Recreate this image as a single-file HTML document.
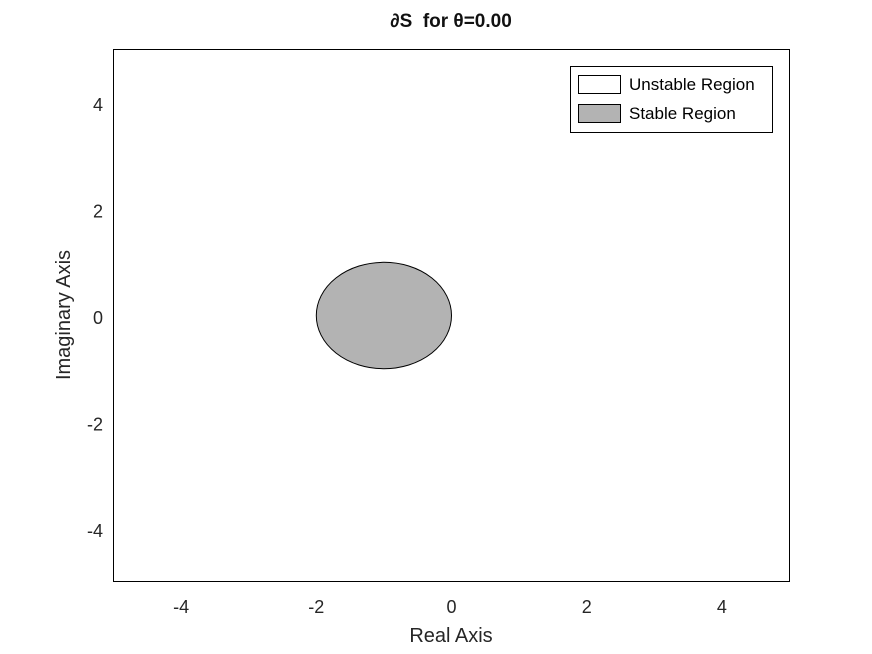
<!DOCTYPE html>
<html><head><meta charset="utf-8"><style>
body{margin:0;background:#fff;}
svg{display:block;font-family:"Liberation Sans",sans-serif;}
</style></head><body>
<svg width="872" height="654">
<rect x="0" y="0" width="872" height="654" fill="#fff"/>
<g id="plot"></g>
<rect x="113.5" y="49.5" width="676" height="532" fill="none" stroke="#000" stroke-width="1"/>
<text x="451" y="27" text-anchor="middle" font-size="19" font-weight="bold" fill="#111">∂S&#160; for θ=0.00</text>
<text x="451" y="642" text-anchor="middle" font-size="20" fill="#262626">Real Axis</text>
<text transform="translate(70,315) rotate(-90)" text-anchor="middle" font-size="20" fill="#262626">Imaginary Axis</text>
<g id="xt"></g><g id="yt"></g>
<g>
<rect x="570.5" y="66.5" width="202" height="66" fill="#fff" stroke="#000"/>
<rect x="578.5" y="75.5" width="42" height="18" fill="#fff" stroke="#000"/>
<text x="629" y="90" font-size="17" fill="#000">Unstable Region</text>
<rect x="578.5" y="104.5" width="42" height="18" fill="#b3b3b3" stroke="#000"/>
<text x="629" y="119" font-size="17" fill="#000">Stable Region</text>
</g>
</svg>
<script>
const xTicks=[-4,-2,0,2,4];
const yTicks=[-4,-2,0,2,4];
const centerRe=[-1];
const radius=[1];
const X0=113.5,X1=789.5,Y0=581.5,Y1=49.5;
const sx=v=>X0+(v+5)/10*(X1-X0);
const sy=v=>Y0-(v+5)/10*(Y0-Y1);
const ns="http://www.w3.org/2000/svg";
const plot=document.getElementById('plot');
const e=document.createElementNS(ns,'ellipse');


e.setAttribute('cx',sx(centerRe[0]));e.setAttribute('cy',sy(0));
e.setAttribute('rx',sx(centerRe[0]+radius[0])-sx(centerRe[0]));
e.setAttribute('ry',sy(0)-sy(radius[0]));
e.setAttribute('fill','#b3b3b3');e.setAttribute('stroke','#000');
plot.appendChild(e);
const xt=document.getElementById('xt');
xTicks.forEach(v=>{const t=document.createElementNS(ns,'text');


t.setAttribute('x',sx(v));t.setAttribute('y',613);t.setAttribute('text-anchor','middle');
t.setAttribute('font-size','18');t.setAttribute('fill','#262626');t.textContent=v;xt.appendChild(t);});
const yt=document.getElementById('yt');
yTicks.forEach(v=>{const t=document.createElementNS(ns,'text');


t.setAttribute('x',103);t.setAttribute('y',sy(v)+8.5);t.setAttribute('text-anchor','end');
t.setAttribute('font-size','18');t.setAttribute('fill','#262626');t.textContent=v;yt.appendChild(t);});
</script>
</body></html>
